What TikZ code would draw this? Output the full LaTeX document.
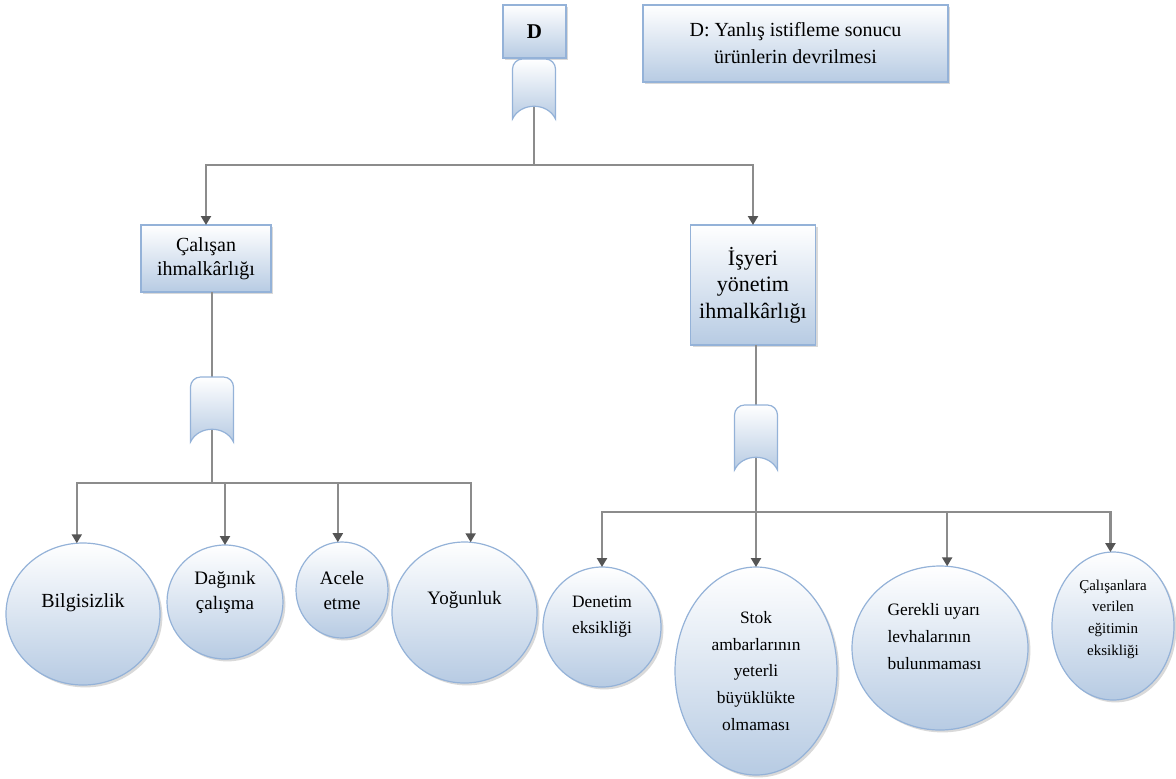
\documentclass[tikz,border=0pt]{standalone}
\usepackage{fontspec}
\setmainfont{Liberation Serif}
\usepackage{tikz}
\usetikzlibrary{arrows.meta,calc,positioning,shadows,shapes.geometric}
\definecolor{fillblue}{HTML}{B7CBE3}
\definecolor{lineblue}{HTML}{94B2D8}
\definecolor{linegray}{HTML}{8C8C8C}
\definecolor{tipgray}{HTML}{555555}
\tikzstyle{element}=[
  draw=lineblue,
  line width=.6pt,
  inner sep=0pt,
  outer sep=0pt,
  rectangle,
  text centered,
  align=center,
  top color=white,
  bottom color=fillblue,
  drop shadow={shadow xshift=1.2pt, shadow yshift=-1.2pt, opacity=.25, fill=black!60},
]
\tikzstyle{cause}=[
  element,
  ellipse,
]
\tikzstyle{gatebox}=[
  draw=none,
  inner sep=0pt,
  outer sep=0pt,
  minimum width=21.5pt,
  minimum height=32.5pt,
]
\tikzstyle{gate}=[
  draw=lineblue,
  line width=.6pt,
  top color=white,
  bottom color=fillblue,
]
\tikzstyle{line}=[
  draw=linegray,
  line width=1.1pt,
]
\tikzstyle{arrow}=[
  line,
  -{Triangle[length=4.5pt,width=5pt,color=tipgray]},
]
\tikzstyle{intext}=[
  align=center,
  inner sep=0pt,
  text=black,
]
\tikzset{
  lefttext/.style={intext, font=\rmfamily\fontsize{9.5}{12.5}\selectfont},
  righttext/.style={intext, font=\rmfamily\fontsize{8.7}{13.3}\selectfont},
}
\newcommand\andgate[1]{%
  \path[gate] (#1.south west) [rounded corners=5pt] -- (#1.north west) -- (#1.north east)
    [sharp corners] -- (#1.south east)
    .. controls ($(#1.south east)+(-8,-17)$) and ($(#1.south west)+(8,-17)$) .. (#1.south west) -- cycle;}

\begin{document}
\begin{tikzpicture}[x=.5pt,y=-.5pt]
  \useasboundingbox (0,0) rectangle (1176,778);
  \node (top) [element, minimum width=31.5pt, minimum height=26.5pt,
    font=\rmfamily\fontsize{10.5}{12}\selectfont\bfseries] at (534.5,31.5) {D};
  \node (legend) [element, minimum width=152.5pt, minimum height=38.5pt,
    font=\rmfamily\fontsize{10}{13.5}\selectfont] at (795.5,43.5) {D: Yanlış istifleme sonucu\\ürünlerin devrilmesi};
  \node (calisan) [element, minimum width=65pt, minimum height=33.5pt,
    font=\rmfamily\fontsize{10}{12}\selectfont] at (206,258.5) {Çalışan\\ihmalkârlığı};
  \node (isyeri) [element, minimum width=62.5pt, minimum height=60pt,
    font=\rmfamily\fontsize{11}{13.3}\selectfont] at (753,285) {İşyeri\\yönetim\\ihmalkârlığı};

  \node (g1) [gatebox, minimum height=30pt] at (534,89) {};
  \node (g2) [gatebox] at (212,409.5) {};
  \node (g3) [gatebox] at (756,437.5) {};
  \coordinate (j1) at (534,165);
  \coordinate (j2) at (212,483);
  \coordinate (j3) at (756,512);

  \node (bilgi) [cause, minimum width=77pt, minimum height=71pt,
    label={[lefttext, font=\rmfamily\fontsize{10}{12.5}\selectfont, yshift=5.5pt]center:Bilgisizlik}] at (83,614) {};
  \node (daginik) [cause, minimum width=58pt, minimum height=57pt,
    label={[lefttext, yshift=4.75pt]center:Dağınık\\çalışma}] at (225,602) {};
  \node (acele) [cause, minimum width=46pt, minimum height=48pt,
    label={[lefttext]center:Acele\\etme}] at (342,590) {};
  \node (yogun) [cause, minimum width=72.5pt, minimum height=70.5pt,
    label={[lefttext, yshift=6.25pt]center:Yoğunluk}] at (464.5,612.5) {};

  \node (denetim) [cause, minimum width=59pt, minimum height=60pt,
    label={[righttext, yshift=5.25pt]center:Denetim\\eksikliği}] at (602,627) {};
  \node (stok) [cause, minimum width=81pt, minimum height=104pt,
    label={[righttext]center:Stok\\ambarlarının\\yeterli\\büyüklükte\\olmaması}] at (756,671) {};
  \node (gerekli) [cause, minimum width=88pt, minimum height=82pt,
    label={[righttext, align=left, xshift=-2.75pt, yshift=5.75pt]center:Gerekli uyarı\\levhalarının\\bulunmaması}] at (940,648) {};
  \node (egitim) [cause, minimum width=61pt, minimum height=74pt,
    label={[intext, font=\rmfamily\fontsize{7.5}{10.8}\selectfont, yshift=3.5pt]center:Çalışanlara\\verilen\\eğitimin\\eksikliği}] at (1113,626) {};

  \draw [line] (g1.center) -- (j1);
  \draw [arrow] (j1) -| (calisan.north);
  \draw [arrow] (j1) -| (isyeri.north);
  \draw [line] (calisan.south -| g2) -- (j2);
  \draw [arrow] (j2) -| (bilgi.95);
  \draw [arrow] (j2) -| (daginik.north);
  \draw [arrow] (j2) -| (acele.95);
  \draw [arrow] (j2) -| (yogun.85);
  \draw [line] (isyeri.south -| g3) -- (j3);
  \draw [arrow] (j3) -| (denetim.north);
  \draw [arrow] (j3) -- (stok.north);
  \draw [arrow] (j3) -| (gerekli.85);
  \draw [arrow] (j3) -| (egitim.92);

  \andgate{g1}
  \andgate{g2}
  \andgate{g3}
\end{tikzpicture}
\end{document}
